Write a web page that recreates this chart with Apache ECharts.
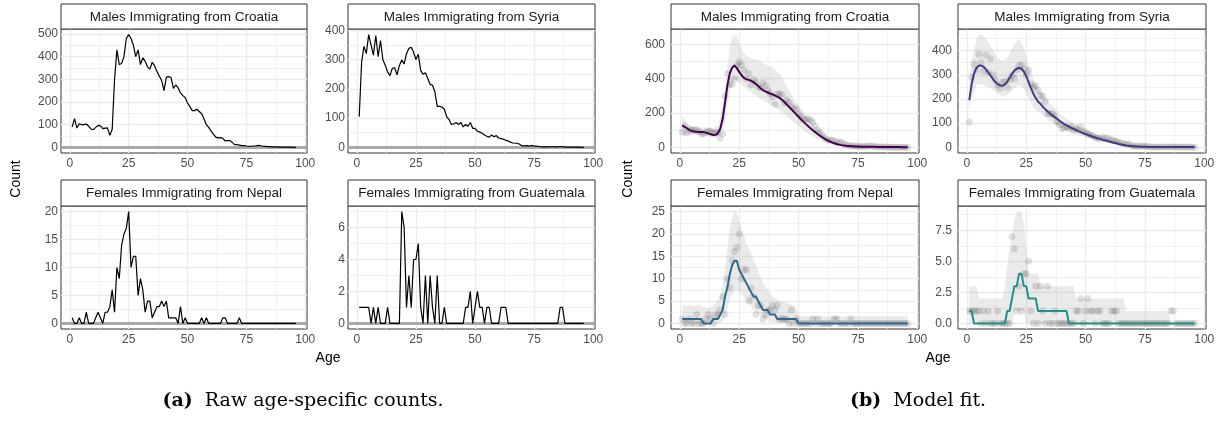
<!DOCTYPE html>
<html>
<head>
<meta charset="utf-8">
<script src="https://cdn.jsdelivr.net/npm/echarts@6/dist/echarts.min.js"></script>
<style>
  html, body { margin: 0; padding: 0; background: #ffffff; }
  #chart { width: 1222px; height: 421px; }
</style>
</head>
<body>
<div id="chart"></div>
<script>
// ---- Ages (x values shared by every panel) ----
const ages = [1,2,3,4,5,6,7,8,9,10,11,12,13,14,15,16,17,18,19,20,21,22,23,24,25,26,27,28,29,30,
  31,32,33,34,35,36,37,38,39,40,41,42,43,44,45,46,47,48,49,50,51,52,53,54,55,56,57,58,59,60,
  61,62,63,64,65,66,67,68,69,70,71,72,73,74,75,76,77,78,79,80,81,82,83,84,85,86,87,88,89,90,
  91,92,93,94,95,96];

// ---- Raw age-specific counts ----
const croatiaMales = [90,127,85,104,100,100,103,93,81,78,88,97,95,83,85,86,53,80,300,430,
  365,370,400,480,497,480,450,400,430,365,395,380,355,345,375,360,335,315,295,250,
  310,312,308,260,275,262,240,228,220,195,180,162,162,168,158,148,125,100,88,72,
  58,45,42,43,40,28,30,30,22,12,12,10,8,8,6,5,5,6,6,9,7,5,4,3,3,2,2,2,1,1,1,1,1,1,0,0];
const syriaMales = [105,290,345,320,385,350,315,382,310,365,300,280,258,245,270,272,248,280,298,285,
  320,338,342,325,300,318,262,250,255,235,215,212,190,140,140,138,130,105,95,78,
  80,85,78,85,70,78,72,85,65,65,55,52,48,42,38,35,42,36,40,32,
  30,28,24,22,18,15,14,14,10,5,5,6,4,7,4,4,3,2,2,2,2,2,3,2,2,3,2,2,1,1,1,1,1,1,0,0];
const nepalFemales = [1,0,0,1,0,0,2,0,0,0,1,2,1,0,2,2,3,6,2,10,
  8,14,16,17,20,10,12,12,5,8,6,2,4,4,1,2,3,3,4,3,
  4,1,1,1,1,0,3,0,1,0,0,0,0,0,0,1,0,1,0,0,
  0,0,0,0,1,1,0,0,0,0,0,1,0,0,0,0,0,0,0,0,0,0,0,0,0,0,0,0,0,0,0,0,0,0,0,0];
const guatemalaFemales = [1,1,1,1,1,0,1,0,1,0,0,0,1,0,0,0,0,0,7,6,
  1,3,1,4,4,5,1,0,3,0,3,1,0,3,0,0,1,0,0,0,
  0,0,0,0,0,1,1,2,0,1,2,1,1,0,1,1,0,0,0,0,
  1,1,1,0,0,0,0,0,0,0,0,0,0,0,0,0,0,0,0,0,0,0,0,0,0,1,1,0,0,0,0,0,0,0,0,0];

// ---- Model fit (central estimate) ----
const croatiaFit = [128,120,110,102,96,93,91,90,90,89,86,81,76,72,73,82,108,165,260,360,
  430,465,477,462,440,420,405,398,393,388,380,370,357,344,334,326,320,314,309,303,
  296,288,277,264,250,236,222,207,192,178,164,150,137,124,112,100,89,78,68,59,
  50,42,35,29,24,20,16,13,11,9,8,7,6,5,5,4,4,4,3,3,3,3,2,2,2,2,2,2,2,2,2,2,1,1,1,1];
const syriaFit = [195,262,305,328,338,338,333,323,310,296,282,270,261,256,255,260,271,288,304,317,
  325,328,325,313,295,270,245,222,204,189,180,168,158,148,140,132,125,118,110,103,
  96,91,86,81,76,71,67,63,59,55,51,48,44,41,38,35,32,29,27,24,
  21,19,17,14,12,10,8,7,6,5,4,4,3,3,3,2,2,2,2,2,2,2,2,2,2,1,1,1,1,1,1,1,1,1,1,1];
const nepalFit = [1,1,1,1,1,1,1,1,1,0,0,0,0,1,1,1,2,3,6,8,
  11,13,14,14,12,11,10,9,8,7,6,6,5,4,3,3,3,2,2,2,
  1,1,1,1,1,1,1,1,1,0,0,0,0,0,0,0,0,0,0,0,
  0,0,0,0,0,0,0,0,0,0,0,0,0,0,0,0,0,0,0,0,0,0,0,0,0,0,0,0,0,0,0,0,0,0,0,0];
const guatemalaFit = [1,1,0,0,0,0,0,0,0,0,0,0,0,0,0,0,1,1,2,3,
  3,4,4,3,3,2,2,2,2,1,1,1,1,1,1,1,1,1,1,1,
  1,1,0,0,0,0,0,0,0,0,0,0,0,0,0,0,0,0,0,0,
  0,0,0,0,0,0,0,0,0,0,0,0,0,0,0,0,0,0,0,0,0,0,0,0,0,0,0,0,0,0,0,0,0,0,0,0];

// ---- Model fit uncertainty band (age, lower, upper) ----
const croatiaBandAges = [1,3,6,10,14,16,18,19,20,21,22,23,24,25,26,28,30,33,36,40,43,46,49,52,55,58,62,66,70,75,80,90,96];
const croatiaBandLo = [67,70,70,71,57,60,100,150,250,330,375,395,390,378,365,345,325,290,268,235,205,170,137,100,72,52,30,16,8,4,3,2,1];
const croatiaBandHi = [186,137,117,117,107,130,240,340,460,582,640,657,645,600,570,533,520,510,485,458,410,330,265,210,150,105,55,30,15,9,7,5,4];
const syriaBandAges = [1,2,4,5,7,10,13,15,17,20,22,24,26,28,31,35,41,47,52,59,66,73,80,96];
const syriaBandLo = [146,200,255,262,258,244,222,209,216,244,258,244,205,165,140,108,75,52,37,20,7,2,1,0];
const syriaBandHi = [258,360,445,466,462,420,368,356,370,427,448,413,340,285,230,180,125,88,62,38,16,7,4,3];
const nepalBandAges = [1,9,10,13,15,17,18,19,20,21,22,23,24,25,26,28,30,32,35,37,39,42,45,48,49,50,96];
const nepalBandLo = [0,0,0,0,0,0,0.5,1.5,3.5,5.4,6.5,7.2,7.3,7.1,6.5,5.3,3.8,2.5,1.3,0.8,0.2,0,0,0,0,0,0];
const nepalBandHi = [4,4,3.5,3.5,4.5,6,8.5,12,16.5,21,24,25,24.5,23,21,18,15.5,13,9,7.5,6,5,4.5,4,3.5,1.6,1.6];
const guatemalaBandAges = [1,4,5,15,16,17,18,19,20,21,22,23,24,25,26,30,31,45,46,66,67,85,86,96];
const guatemalaBandLo = [0,0,0,0,0,0,0,0,1,1,1,1,1,0,0,0,0,0,0,0,0,0,0,0];
const guatemalaBandHi = [3,3,2,2,3,4.5,6,7.2,8.4,9,9,9,8,6,4,4,3,3,2,2,1,1,0,0];

// ---- Tick labels and minor grid positions ----
const ageTicks = [0, 25, 50, 75, 100];
const ageMinor = [12.5, 37.5, 62.5, 87.5];
const croatiaRawTicks = [0,100,200,300,400,500];   const croatiaRawMinor = [50,150,250,350,450];
const syriaRawTicks = [0,100,200,300,400];         const syriaRawMinor = [50,150,250,350];
const nepalRawTicks = [0,5,10,15,20];              const nepalRawMinor = [2.5,7.5,12.5,17.5];
const guatemalaRawTicks = [0,2,4,6];               const guatemalaRawMinor = [1,3,5,7];
const croatiaFitTicks = [0,200,400,600];           const croatiaFitMinor = [100,300,500];
const syriaFitTicks = [0,100,200,300,400];         const syriaFitMinor = [50,150,250,350,450];
const nepalFitTicks = [0,5,10,15,20,25];           const nepalFitMinor = [2.5,7.5,12.5,17.5,22.5];
const guatemalaFitTicks = [0,2.5,5,7.5];           const guatemalaFitMinor = [1.25,3.75,6.25,8.75];

const titles = ['Males Immigrating from Croatia', 'Males Immigrating from Syria',
                'Females Immigrating from Nepal', 'Females Immigrating from Guatemala'];

// ---- Layout of the eight facets ----
const SANS = '"Liberation Sans", Arial, Helvetica, sans-serif';
const rowTop = [29, 206], rowH = [124, 123], stripTop = [4, 180];
const colA = [[61, 246], [348, 247]];
const colB = [[671, 248], [958, 248]];

const rawSets = [
  { raw: croatiaMales, ticks: croatiaRawTicks, minor: croatiaRawMinor },
  { raw: syriaMales, ticks: syriaRawTicks, minor: syriaRawMinor },
  { raw: nepalFemales, ticks: nepalRawTicks, minor: nepalRawMinor },
  { raw: guatemalaFemales, ticks: guatemalaRawTicks, minor: guatemalaRawMinor }
];
const fitSets = [
  { raw: croatiaMales, fit: croatiaFit, bAges: croatiaBandAges, lo: croatiaBandLo, hi: croatiaBandHi,
    ticks: croatiaFitTicks, minor: croatiaFitMinor, color: '#440154' },
  { raw: syriaMales, fit: syriaFit, bAges: syriaBandAges, lo: syriaBandLo, hi: syriaBandHi,
    ticks: syriaFitTicks, minor: syriaFitMinor, color: '#443A83' },
  { raw: nepalFemales, fit: nepalFit, bAges: nepalBandAges, lo: nepalBandLo, hi: nepalBandHi,
    ticks: nepalFitTicks, minor: nepalFitMinor, color: '#31688E' },
  { raw: guatemalaFemales, fit: guatemalaFit, bAges: guatemalaBandAges, lo: guatemalaBandLo, hi: guatemalaBandHi,
    ticks: guatemalaFitTicks, minor: guatemalaFitMinor, color: '#21908C', decimals: 1 }
];

// ggplot-style 5% expansion of the data range
const xSpan = Math.max(...ages) - Math.min(...ages);
const xMin = Math.min(...ages) - 0.05 * xSpan, xMax = Math.max(...ages) + 0.05 * xSpan;

const grids = [], xAxes = [], yAxes = [], series = [], graphic = [];

function gridLines(majorY, minorY) {
  const major = { color: '#ebebeb', width: 1.3, type: 'solid' };
  const minor = { color: '#ebebeb', width: 0.7, type: 'solid' };
  return [].concat(
    minorY.map(v => ({ yAxis: v, lineStyle: minor })),
    ageMinor.map(v => ({ xAxis: v, lineStyle: minor })),
    majorY.map(v => ({ yAxis: v, lineStyle: major })),
    ageTicks.map(v => ({ xAxis: v, lineStyle: major }))
  );
}

function addPanel(idx, left, width, row, title, ticks, minor, yTop, yMargin, decimals) {
  const top = rowTop[row], height = rowH[row];
  grids.push({ left, top, width, height, show: true, backgroundColor: '#ffffff',
    borderColor: '#333333', borderWidth: 1, z: 0 });
  const labelStyle = { color: '#4d4d4d', fontSize: 12, fontFamily: SANS };
  xAxes.push({ type: 'value', gridIndex: idx, min: xMin, max: xMax,
    axisLine: { show: false }, splitLine: { show: false },
    axisTick: { show: true, length: 3, customValues: ageTicks, lineStyle: { color: '#333333', width: 1 } },
    axisLabel: Object.assign({ customValues: ageTicks, margin: 5 }, labelStyle) });
  yAxes.push({ type: 'value', gridIndex: idx, min: -0.05 * yTop, max: 1.05 * yTop,
    axisLine: { show: false }, splitLine: { show: false },
    axisTick: { show: true, length: 3, customValues: ticks, lineStyle: { color: '#333333', width: 1 } },
    axisLabel: Object.assign({ customValues: ticks, margin: yMargin,
      formatter: v => decimals ? Number(v).toFixed(decimals) : String(v) }, labelStyle) });
  // panel grid lines
  series.push({ type: 'line', xAxisIndex: idx, yAxisIndex: idx, data: [], silent: true,
    markLine: { silent: true, symbol: 'none', z: 1, animation: false, label: { show: false },
      data: gridLines(ticks, minor) } });
  // facet strip
  const sTop = stripTop[row], sH = top - sTop;
  graphic.push({ type: 'rect', silent: true, z: 10,
    shape: { x: left, y: sTop, width: width, height: sH },
    style: { fill: '#ffffff', stroke: '#333333', lineWidth: 1 } });
  graphic.push({ type: 'text', silent: true, z: 11, x: left + width / 2, y: sTop + sH / 2 + 0.5,
    style: { text: title, fontSize: 13.5, fontFamily: SANS, fill: '#1a1a1a',
      align: 'center', verticalAlign: 'middle' } });
}

// (a) raw counts
rawSets.forEach((s, k) => {
  const idx = k, row = Math.floor(k / 2), col = colA[k % 2];
  addPanel(idx, col[0], col[1], row, titles[k], s.ticks, s.minor, Math.max(...s.raw), 3);
  series.push({ type: 'line', xAxisIndex: idx, yAxisIndex: idx, z: 3, silent: true,
    data: ages.map((a, i) => [a, s.raw[i]]), showSymbol: false, symbol: 'none',
    lineStyle: { color: '#000000', width: 1.2 }, animation: false,
    markLine: { silent: true, symbol: 'none', z: 2, animation: false, label: { show: false },
      data: [{ yAxis: 0, lineStyle: { color: '#a9a9a9', width: 3, type: 'solid' } }] } });
});

// (b) model fit
fitSets.forEach((s, k) => {
  const idx = 4 + k, row = Math.floor(k / 2), col = colB[k % 2];
  const yTop = Math.max(Math.max(...s.raw), Math.max(...s.fit), Math.max(...s.hi));
  addPanel(idx, col[0], col[1], row, titles[k], s.ticks, s.minor, yTop, 6, s.decimals);
  series.push({ type: 'custom', xAxisIndex: idx, yAxisIndex: idx, z: 2, silent: true, clip: true,
    data: [[s.bAges[0], s.lo[0]]], animation: false,
    renderItem: (params, api) => {
      const pts = [];
      for (let i = 0; i < s.bAges.length; i++) pts.push(api.coord([s.bAges[i], s.hi[i]]));
      for (let i = s.bAges.length - 1; i >= 0; i--) pts.push(api.coord([s.bAges[i], s.lo[i]]));
      return { type: 'polygon', shape: { points: pts }, style: { fill: 'rgba(150,150,150,0.2)' } };
    } });
  series.push({ type: 'scatter', xAxisIndex: idx, yAxisIndex: idx, z: 3, silent: true,
    data: ages.map((a, i) => [a, s.raw[i]]), symbolSize: 7, animation: false,
    itemStyle: { color: 'rgba(0,0,0,0.14)' } });
  series.push({ type: 'line', xAxisIndex: idx, yAxisIndex: idx, z: 4, silent: true,
    data: ages.map((a, i) => [a, s.fit[i]]), showSymbol: false, symbol: 'none', animation: false,
    lineStyle: { color: s.color, width: 2 } });
});

// axis titles
[[16, 179], [628, 179]].forEach(p => graphic.push({ type: 'text', silent: true, x: p[0], y: p[1],
  rotation: Math.PI / 2,
  style: { text: 'Count', fontSize: 14, fontFamily: SANS, fill: '#000000', align: 'center', verticalAlign: 'middle' } }));
[[328, 358], [938, 358]].forEach(p => graphic.push({ type: 'text', silent: true, x: p[0], y: p[1],
  style: { text: 'Age', fontSize: 14, fontFamily: SANS, fill: '#000000', align: 'center', verticalAlign: 'middle' } }));

// sub-figure captions
const SERIF = '"DejaVu Serif", "Liberation Serif", serif';
[[303, 401, '(a)', 'Raw age-specific counts.'], [918, 401, '(b)', 'Model fit.']].forEach(c => graphic.push({
  type: 'text', silent: true, x: c[0], y: c[1],
  style: { text: '{b|' + c[2] + '}  ' + c[3], fontSize: 19, fontFamily: SERIF, fill: '#000000',
    align: 'center', verticalAlign: 'middle',
    rich: { b: { fontWeight: 'bold', fontSize: 19, fontFamily: SERIF } } } }));

const chart = echarts.init(document.getElementById('chart'), null, { renderer: 'canvas' });
chart.setOption({
  animation: false,
  backgroundColor: '#ffffff',
  grid: grids, xAxis: xAxes, yAxis: yAxes, series: series, graphic: graphic
});
</script>
</body>
</html>
